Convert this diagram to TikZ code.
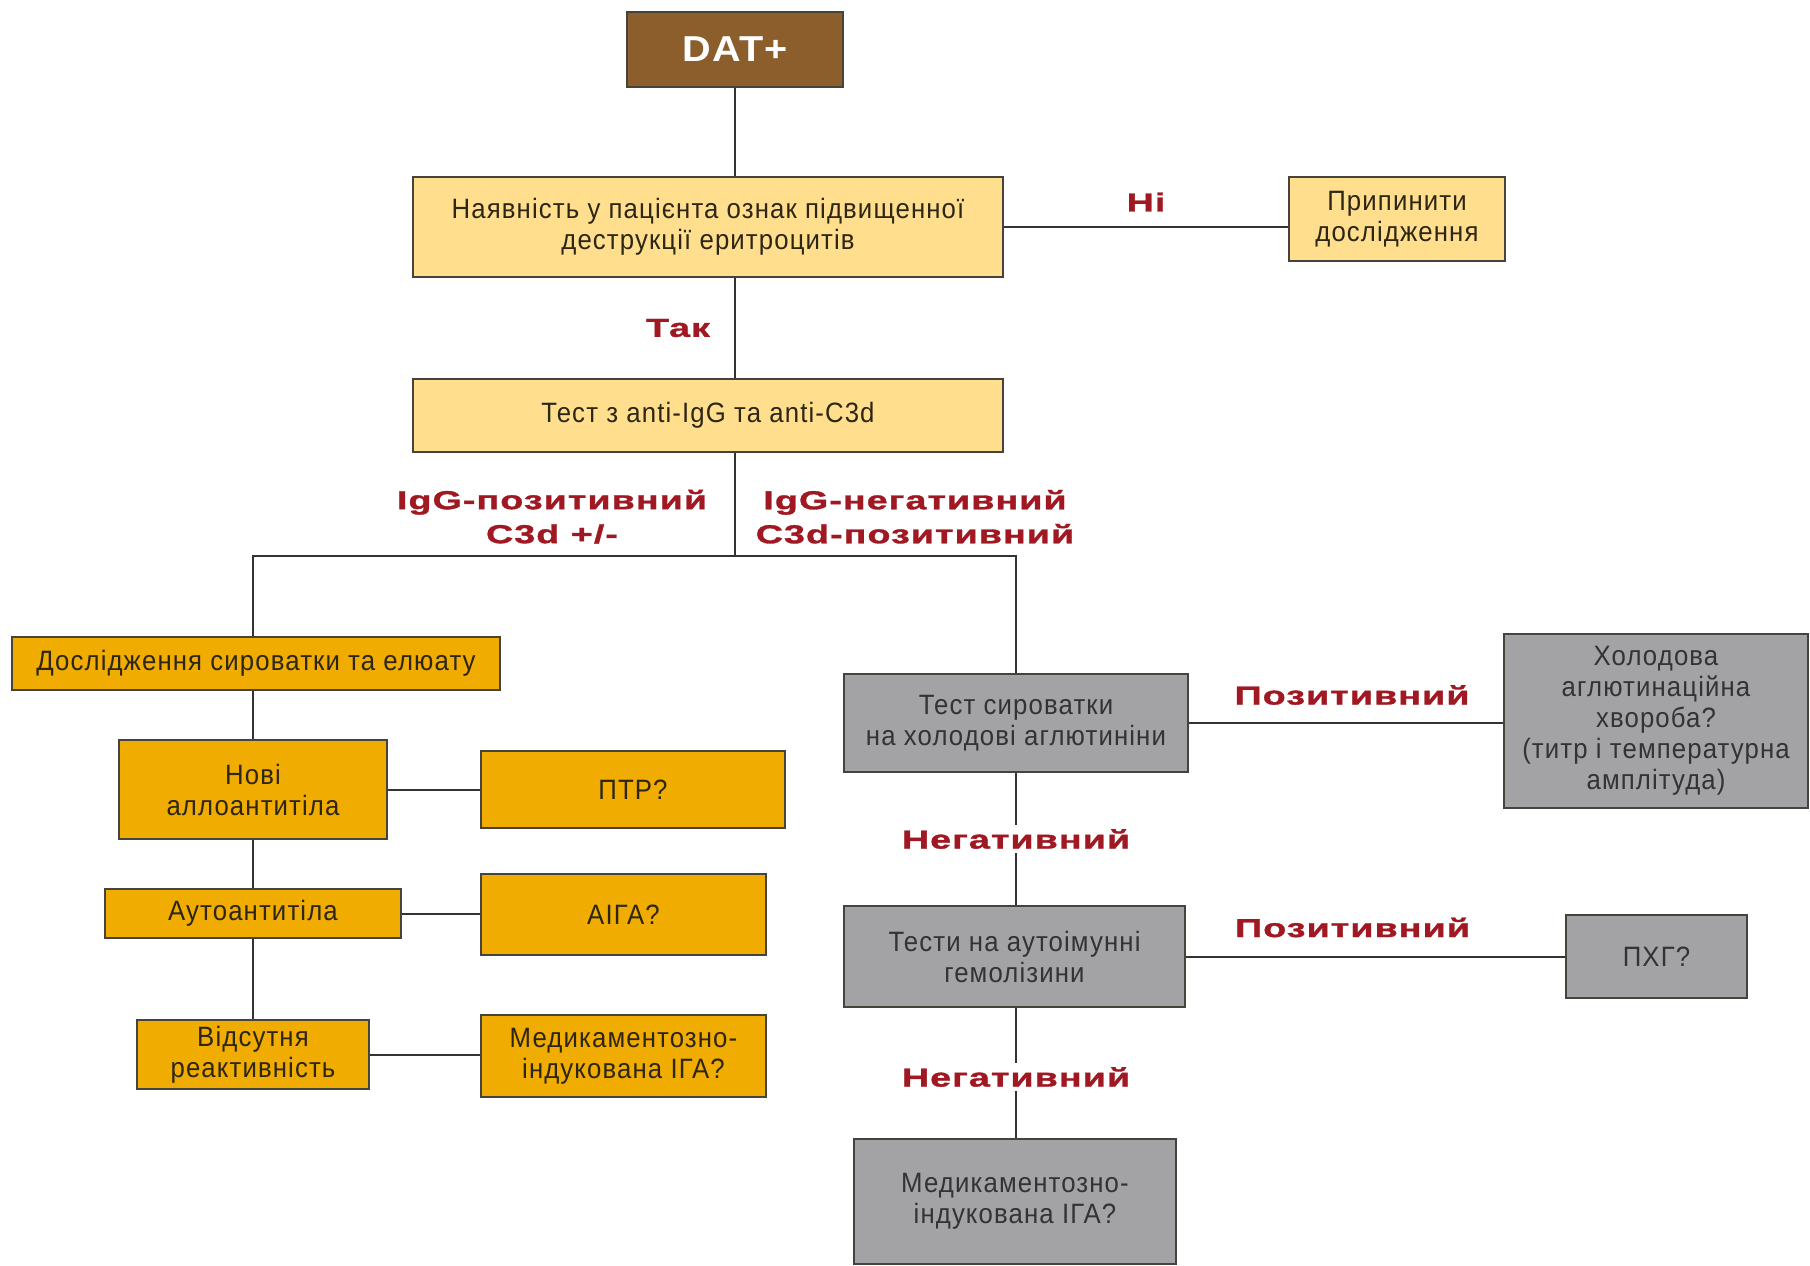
\documentclass[tikz,border=0pt]{standalone}
\usepackage{fontspec}
\setmainfont{Liberation Sans}[FakeStretch=0.92, LetterSpace=4]
\newfontfamily\answerfont{Liberation Sans}[BoldFeatures={FakeBold=1.2}, FakeStretch=1.45, LetterSpace=4]
\newfontfamily\datfont{Liberation Sans}[FakeStretch=1.1, LetterSpace=4]
\usetikzlibrary{positioning}

\definecolor{datbrown}{RGB}{140,94,44}
\definecolor{paleyellow}{RGB}{255,223,142}
\definecolor{goldbox}{RGB}{240,172,0}
\definecolor{greybox}{RGB}{163,163,166}
\definecolor{answerred}{RGB}{160,24,34}
\definecolor{boxline}{RGB}{70,66,60}
\definecolor{boxtext}{RGB}{46,38,20}

\tikzstyle{base} = [rectangle, draw=boxline, line width=1.2pt, align=center, inner sep=0pt, text=boxtext, font=\fontsize{14}{15.5}\selectfont]
\tikzstyle{start} = [base, fill=datbrown, text=white, font=\datfont\bfseries\fontsize{18}{20}\selectfont]
\tikzstyle{query} = [base, fill=paleyellow]
\tikzstyle{serum} = [base, fill=goldbox]
\tikzstyle{coldtest} = [base, fill=greybox, text=black!80]
\tikzstyle{line} = [line width=1pt, draw=black!80]
\tikzstyle{answer} = [font=\answerfont\bfseries\fontsize{13}{17}\selectfont, text=answerred, fill=white, inner sep=2pt, align=center]

\begin{document}
\begin{tikzpicture}[x=0.5pt, y=-0.5pt]

\useasboundingbox (0,0) rectangle (1810,1265);

% top of the chart
\node (DAT_POS) [start, minimum width=108pt, minimum height=37.5pt] at (735,49.5) {DAT+};
\node (SIGNS_HEMOLYSIS) [query, minimum width=295pt, minimum height=50pt] at (708,227) {Наявність у пацієнта ознак підвищенної\\деструкції еритроцитів};
\node (STOP_TESTS) [query, minimum width=108pt, minimum height=42pt] at (1397,219) {Припинити\\дослідження};
\node (TEST_IGG_C3D) [query, minimum width=295pt, minimum height=36.5pt] at (708,415.5) {Тест з anti-IgG та anti-C3d};
\coordinate (SPLIT) at (735,556);

% IgG positive branch
\node (SERUM_ELUATE) [serum, minimum width=244pt, minimum height=26.5pt] at (256,663.5) {Дослідження сироватки та елюату};
\node (NEW_ALLO) [serum, minimum width=134pt, minimum height=49.5pt] at (253,789.5) {Нові\\аллоантитіла};
\node (DHTR) [serum, minimum width=152pt, minimum height=38.5pt] at (633,789.5) {ПТР?};
\node (AUTO_AB) [serum, minimum width=148pt, minimum height=24.5pt] at (253,913.5) {Аутоантитіла};
\node (AIHA) [serum, minimum width=142.5pt, minimum height=40.5pt] at (623.5,914.5) {АІГА?};
\node (NO_REACT) [serum, minimum width=116pt, minimum height=34.5pt] at (253,1054.5) {Відсутня\\реактивність};
\node (DRUG_LEFT) [serum, minimum width=142.5pt, minimum height=41pt] at (623.5,1056) {Медикаментозно-\\індукована ІГА?};

% IgG negative branch
\node (COLD_AGGL) [coldtest, minimum width=172pt, minimum height=49pt] at (1016,723) {Тест сироватки\\на холодові аглютиніни};
\node (CAD) [coldtest, minimum width=152pt, minimum height=87pt] at (1656,721) {Холодова\\аглютинаційна\\хвороба?\\(титр і температурна\\амплітуда)};
\node (HEMOLYSINS) [coldtest, minimum width=170.5pt, minimum height=50.5pt] at (1014.5,956.5) {Тести на аутоімунні\\гемолізини};
\node (PCH) [coldtest, minimum width=90.5pt, minimum height=41.5pt] at (1656.5,956.5) {ПХГ?};
\node (DRUG_RIGHT) [coldtest, minimum width=161pt, minimum height=62.5pt] at (1015,1201.5) {Медикаментозно-\\індукована ІГА?};

\draw [line] (DAT_POS.south) -- (DAT_POS.south |- SIGNS_HEMOLYSIS.north);
\draw [line] (SIGNS_HEMOLYSIS.east) -- node[answer, midway, yshift=12.5pt] (ANS_NO) {Ні} (SIGNS_HEMOLYSIS.east -| STOP_TESTS.west);
\draw [line] (DAT_POS.south |- SIGNS_HEMOLYSIS.south) -- node[answer, midway, xshift=-28.5pt] (ANS_YES) {Так} (DAT_POS.south |- TEST_IGG_C3D.north);
\draw [line] (DAT_POS.south |- TEST_IGG_C3D.south) -- (SPLIT)
    node[answer, pos=0.55, xshift=-91.5pt, yshift=-3.5pt] (ANS_IGG_POS) {IgG-позитивний\\C3d +/-}
    node[answer, pos=0.55, xshift=90pt, yshift=-3.5pt] (ANS_IGG_NEG) {IgG-негативний\\C3d-позитивний};
\draw [line] (SPLIT) -| (NEW_ALLO.north |- SERUM_ELUATE.north);
\draw [line] (SPLIT) -| (COLD_AGGL.north);

\draw [line] (NEW_ALLO.north |- SERUM_ELUATE.south) -- (NEW_ALLO.north);
\draw [line] (NEW_ALLO.south) -- (AUTO_AB.north);
\draw [line] (AUTO_AB.south) -- (NO_REACT.north);
\draw [line] (NEW_ALLO.east) -- (DHTR.west);
\draw [line] (AUTO_AB.east) -- (AUTO_AB.east -| AIHA.west);
\draw [line] (NO_REACT.east) -- (NO_REACT.east -| DRUG_LEFT.west);

\draw [line] (COLD_AGGL.east) -- node[answer, midway, xshift=3pt, yshift=14pt] (ANS_POS_A) {Позитивний} (COLD_AGGL.east -| CAD.west);
\draw [line] (COLD_AGGL.south) -- node[answer, midway] (ANS_NEG_A) {Негативний} (COLD_AGGL.south |- HEMOLYSINS.north);
\draw [line] (HEMOLYSINS.east) -- node[answer, midway, xshift=-11.5pt, yshift=14.5pt] (ANS_POS_B) {Позитивний} (PCH.west);
\draw [line] (COLD_AGGL.south |- HEMOLYSINS.south) -- node[answer, midway, yshift=-2pt] (ANS_NEG_B) {Негативний} (COLD_AGGL.south |- DRUG_RIGHT.north);

\end{tikzpicture}
\end{document}
